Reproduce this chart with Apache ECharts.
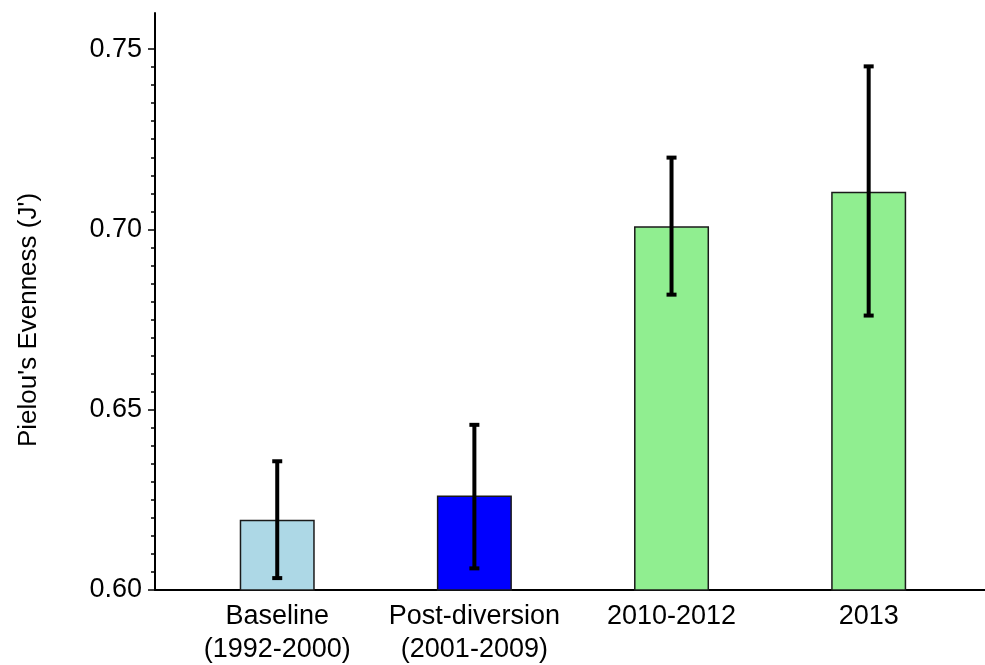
<!DOCTYPE html>
<html>
<head>
<meta charset="utf-8">
<script src="https://cdn.jsdelivr.net/npm/echarts@6/dist/echarts.min.js"></script>
<style>html,body{margin:0;padding:0;background:#fff;}#c{width:985px;height:665px;}</style>
</head>
<body>
<div id="c"></div>
<script>
// Data
const categories = ['Baseline\n(1992-2000)', 'Post-diversion\n(2001-2009)', '2010-2012', '2013'];
const positions = [1, 2, 3, 4];
const means = [0.6195, 0.6262, 0.7009, 0.7104];
const errLow = [0.6033, 0.6060, 0.6819, 0.6761];
const errHigh = [0.6357, 0.6458, 0.7199, 0.7452];
const barColors = ['#ADD8E6', '#0000FF', '#90EE90', '#90EE90'];
const yMajorTicks = [0.60, 0.65, 0.70, 0.75];
const yAxisTitle = "Pielou's Evenness (J')";

const yMinorTicks = [];
for (let i = 0; i < yMajorTicks.length - 1; i++) {
  for (let k = 1; k < 10; k++) {
    yMinorTicks.push(+(yMajorTicks[i] + k * (yMajorTicks[i + 1] - yMajorTicks[i]) / 10).toFixed(4));
  }
}

const FONT = 'Liberation Sans, Arial, sans-serif';
const chart = echarts.init(document.getElementById('c'), null, {renderer: 'canvas'});

const option = {
  animation: false,
  backgroundColor: '#fff',
  grid: {left: 155, right: 0, top: 13, bottom: 75, containLabel: false, outerBoundsMode: 'none'},
  xAxis: {
    type: 'value', min: 0.38, max: 4.59,
    axisLine: {show: true, lineStyle: {color: '#000', width: 2}},
    axisTick: {show: false},
    splitLine: {show: false},
    axisLabel: {
      customValues: positions,
      formatter: v => categories[Math.round(v) - 1] || '',
      color: '#000', fontFamily: FONT, fontSize: 27, lineHeight: 33, margin: 10
    }
  },
  yAxis: [{
    type: 'value', min: 0.6, max: 0.76,
    axisLine: {show: true, lineStyle: {color: '#000', width: 2}},
    axisTick: {show: true, customValues: yMajorTicks, length: 7, lineStyle: {color: '#000', width: 1.5}},
    axisLabel: {customValues: yMajorTicks, formatter: v => v.toFixed(2), color: '#000', fontFamily: FONT, fontSize: 27, margin: 13},
    splitLine: {show: false}
  }, {
    type: 'value', min: 0.6, max: 0.76, position: 'left',
    axisLine: {show: false},
    axisTick: {show: true, customValues: yMinorTicks, length: 4, lineStyle: {color: '#000', width: 1.5}},
    axisLabel: {show: false},
    splitLine: {show: false}
  }],
  graphic: [{
    type: 'text', x: 29, y: 320, rotation: Math.PI / 2,
    style: {text: yAxisTitle, fill: '#000', font: '26px ' + FONT, textAlign: 'center', textVerticalAlign: 'middle'}
  }],
  series: [{
    type: 'bar',
    barWidth: 75,
    data: positions.map((p, i) => ({value: [p, means[i]], itemStyle: {color: barColors[i], borderColor: '#1a1a1a', borderWidth: 1.5}})),
    z: 2
  }, {
    type: 'custom',
    data: positions.map((p, i) => [p, errLow[i], errHigh[i]]),
    renderItem: function (params, api) {
      const lo = api.coord([api.value(0), api.value(1)]);
      const hi = api.coord([api.value(0), api.value(2)]);
      const hw = 5;
      const st = {stroke: '#000', lineWidth: 4};
      return {
        type: 'group',
        children: [
          {type: 'line', shape: {x1: lo[0], y1: lo[1], x2: hi[0], y2: hi[1]}, style: st},
          {type: 'line', shape: {x1: lo[0] - hw, y1: lo[1], x2: lo[0] + hw, y2: lo[1]}, style: st},
          {type: 'line', shape: {x1: hi[0] - hw, y1: hi[1], x2: hi[0] + hw, y2: hi[1]}, style: st}
        ]
      };
    },
    z: 3
  }]
};
chart.setOption(option);
</script>
</body>
</html>
